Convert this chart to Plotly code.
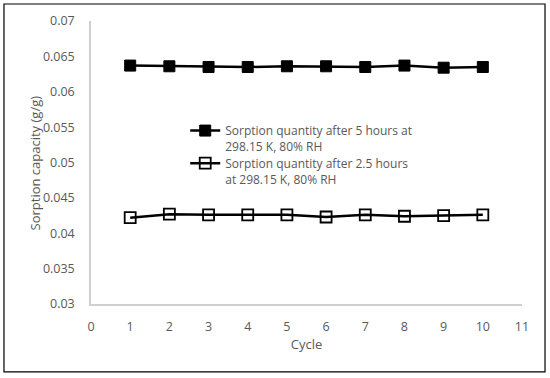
import plotly.graph_objects as go

cycles = [1, 2, 3, 4, 5, 6, 7, 8, 9, 10]
sorption_5h = [0.0637, 0.0636, 0.0635, 0.0635, 0.0636, 0.0636, 0.0635, 0.0637, 0.0634, 0.0635]
sorption_2_5h = [0.0422, 0.0427, 0.0426, 0.0426, 0.0426, 0.0423, 0.0426, 0.0424, 0.0425, 0.0426]
name_5h = "Sorption quantity after 5 hours at<br>298.15 K, 80% RH"
name_2_5h = "Sorption quantity after 2.5 hours<br>at 298.15 K, 80% RH"

FONT = "Open Sans"
GREY = "#595959"

fig = go.Figure()
fig.add_trace(go.Scatter(
    x=cycles, y=sorption_5h, name=name_5h, mode="lines+markers", legend="legend",
    line=dict(color="black", width=2.5),
    marker=dict(symbol="square", size=11, color="black", line=dict(color="black", width=1)),
))
fig.add_trace(go.Scatter(
    x=cycles, y=sorption_2_5h, name=name_2_5h, mode="lines+markers", legend="legend2",
    line=dict(color="black", width=2.5),
    marker=dict(symbol="square-open", size=11, color="black", line=dict(color="black", width=1.8)),
))

leg_common = dict(xanchor="left", yanchor="top", valign="top",
                  bgcolor="rgba(0,0,0,0)", font=dict(family=FONT, size=12, color=GREY),
                  itemwidth=30)

fig.update_layout(
    width=550, height=378,
    margin=dict(l=91, r=28, t=21, b=74),
    paper_bgcolor="white", plot_bgcolor="white",
    font=dict(family=FONT, size=12.5, color=GREY),
    showlegend=True,
    legend=dict(x=0.2186, y=0.6633, **leg_common),
    legend2=dict(x=0.2186, y=0.5480, **leg_common),
    xaxis=dict(range=[0, 11], dtick=1, tick0=0, showgrid=False, zeroline=False,
               showline=True, linecolor="#d0d0d0", linewidth=1.5, ticks="",
               ticklabelstandoff=10, automargin=False,
               title=dict(text="Cycle", font=dict(family=FONT, size=13, color=GREY), standoff=6)),
    yaxis=dict(range=[0.03, 0.07], dtick=0.005, tick0=0.03, showgrid=False, zeroline=False,
               showline=True, linecolor="#d0d0d0", linewidth=1.5, ticks="",
               ticklabelstandoff=12, automargin=False),
    annotations=[dict(text="Sorption capacity (g/g)", xref="paper", yref="paper",
                      x=-0.13, y=0.5, textangle=-90, showarrow=False,
                      xanchor="center", yanchor="middle",
                      font=dict(family=FONT, size=13, color=GREY))],
    shapes=[dict(type="rect", xref="paper", yref="paper",
                 x0=-0.2019, x1=1.0534, y0=-0.240, y1=1.060,
                 line=dict(color="black", width=1.2), fillcolor="rgba(0,0,0,0)", layer="below")],
)

fig.write_html("out.html", post_script="document.body.style.margin='0';",
               config={"displayModeBar": False})
